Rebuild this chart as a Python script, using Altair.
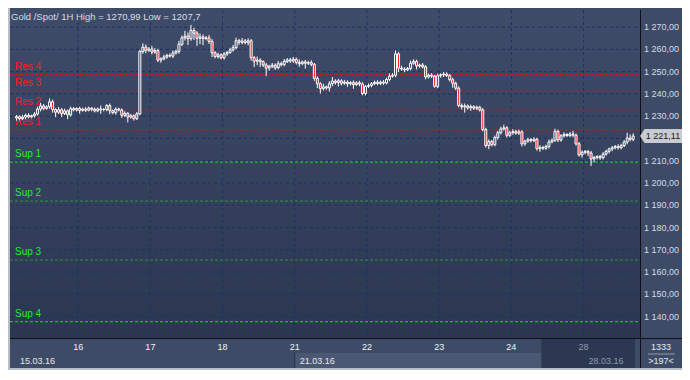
import altair as alt
import pandas as pd

# ---------------- data ----------------
closes = [
    1229.8, 1228.9, 1229.6, 1230.4, 1229.7, 1230.2, 1231.0, 1233.2, 1234.6, 1233.5,
    1234.2, 1236.5, 1233.0, 1231.8, 1232.9, 1231.2, 1232.4, 1230.6, 1233.4, 1232.8,
    1233.5, 1232.6, 1233.2, 1232.7, 1233.6, 1233.1, 1232.4, 1233.3, 1232.9, 1233.0,
    1234.8, 1232.5, 1231.6, 1233.2, 1232.8, 1230.4, 1231.3, 1229.6, 1230.2, 1228.9,
    1231.0, 1259.0, 1261.0, 1259.6, 1260.2, 1258.8, 1259.5, 1255.2, 1255.8, 1256.6,
    1257.3, 1257.0, 1258.4, 1259.1, 1262.3, 1265.2, 1266.0, 1264.8, 1268.5, 1267.3,
    1265.0, 1265.6, 1264.9, 1265.2, 1263.6, 1258.5, 1256.8, 1257.6, 1256.2, 1258.0,
    1258.6, 1259.8, 1260.8, 1263.9, 1263.2, 1263.8, 1263.1, 1263.9, 1256.3, 1254.7,
    1255.2, 1254.5, 1253.0, 1251.6, 1252.4, 1252.9, 1251.8, 1253.6, 1253.2, 1254.6,
    1255.3, 1254.8, 1255.6, 1254.2, 1253.6, 1254.4, 1253.8, 1254.1, 1253.3, 1247.0,
    1244.6, 1242.4, 1243.2, 1242.7, 1244.6, 1245.8, 1245.1, 1245.9, 1244.8, 1245.3,
    1244.6, 1245.1, 1244.2, 1245.0, 1244.5, 1240.2, 1243.4, 1243.8, 1244.6, 1245.2,
    1244.7, 1245.3, 1244.9, 1246.5, 1248.0, 1248.4, 1258.0, 1251.6, 1251.2, 1250.8,
    1251.4, 1253.8, 1254.6, 1252.6, 1253.0, 1252.2, 1247.6, 1248.4, 1248.0, 1243.4,
    1248.2, 1248.6, 1248.9, 1248.3, 1246.4, 1244.8, 1242.6, 1234.8, 1234.2, 1234.6,
    1233.8, 1234.3, 1233.6, 1234.0, 1232.8, 1224.0, 1216.8, 1218.6, 1217.2, 1220.4,
    1222.6, 1224.3, 1224.8, 1221.4, 1222.6, 1223.1, 1222.4, 1223.0, 1217.6, 1218.8,
    1219.5, 1219.0, 1219.7, 1215.4, 1216.0, 1215.6, 1216.4, 1218.4, 1219.2, 1223.2,
    1219.3, 1221.2, 1221.8, 1221.3, 1222.0, 1221.5, 1217.6, 1212.6, 1213.8, 1214.2,
    1213.5, 1210.8, 1211.4, 1211.9, 1211.3, 1213.0, 1214.2, 1215.3, 1215.8, 1216.4,
    1215.9, 1216.8, 1218.4, 1220.2, 1219.6, 1221.11,
]
up_wick = [
    0.8, 0.6, 1.0, 0.7, 0.9, 0.5, 0.8, 1.1, 1.4, 0.9,
    0.7, 1.5, 0.9, 0.6, 1.2, 0.8, 1.0, 0.6, 0.9, 0.7,
    0.5, 0.8, 0.6, 0.9, 0.7, 0.5, 0.8, 0.6, 1.5, 0.7,
    0.6, 0.9, 0.5, 0.8, 0.6, 0.7, 0.9, 0.5, 0.8, 0.6,
    0.9, 0.8, 1.7, 1.2, 0.9, 1.4, 1.1, 0.8, 0.6, 1.0,
    0.7, 0.9, 1.2, 0.8, 1.5, 1.1, 2.3, 1.6, 2.49, 1.2,
    0.9, 1.5, 1.1, 0.8, 1.2, 1.0, 0.7, 0.9, 0.6, 0.8,
    0.7, 0.9, 1.2, 1.4, 0.8, 1.3, 0.9, 1.1, 0.8, 0.7,
    1.6, 0.8, 0.6, 0.9, 0.7, 1.0, 0.8, 1.2, 0.9, 1.1,
    0.8, 0.9, 1.0, 0.7, 1.3, 0.6, 0.9, 0.8, 1.0, 0.6,
    0.9, 0.7, 1.4, 0.6, 1.1, 1.8, 0.8, 0.9, 0.7, 1.0,
    0.8, 0.6, 1.0, 0.7, 0.9, 0.8, 0.6, 0.9, 0.7, 0.8,
    1.0, 0.7, 0.9, 0.8, 1.2, 0.9, 1.6, 0.8, 1.1, 0.9,
    0.7, 1.2, 1.0, 0.8, 0.6, 0.9, 0.7, 0.8, 0.9, 0.6,
    0.9, 0.7, 1.1, 0.8, 0.6, 0.9, 0.7, 0.8, 0.9, 1.1,
    0.7, 0.9, 0.6, 0.8, 0.7, 0.9, 0.8, 1.0, 0.7, 0.9,
    0.8, 1.0, 1.4, 0.7, 0.9, 1.1, 0.8, 1.0, 0.7, 0.6,
    0.9, 0.7, 0.8, 0.6, 0.9, 0.7, 0.8, 1.1, 0.9, 1.2,
    0.8, 0.7, 1.0, 0.6, 0.9, 1.4, 0.7, 0.8, 0.9, 0.6,
    0.7, 0.9, 0.8, 0.6, 0.7, 0.9, 0.8, 0.6, 0.9, 0.7,
    1.0, 0.8, 0.9, 2.4, 1.6, 1.2,
]
down_wick = [
    1.2, 0.8, 0.6, 0.9, 0.7, 0.6, 0.8, 0.7, 1.0, 0.8,
    0.6, 0.9, 1.4, 2.2, 0.8, 1.6, 0.7, 1.9, 0.8, 0.6,
    0.7, 1.5, 0.6, 0.8, 0.5, 0.9, 0.7, 0.6, 1.8, 0.7,
    0.8, 1.6, 0.7, 0.9, 0.6, 1.2, 0.8, 2.4, 0.7, 0.9,
    0.6, 0.5, 0.9, 1.3, 0.7, 1.1, 0.8, 0.9, 1.2, 0.7,
    0.8, 0.6, 0.9, 0.7, 1.0, 0.8, 1.2, 2.8, 0.9, 3.1,
    3.4, 2.6, 3.0, 0.8, 1.1, 1.9, 0.8, 0.9, 0.7, 0.8,
    0.9, 0.6, 0.8, 0.7, 1.1, 0.9, 0.8, 1.2, 1.4, 2.6,
    1.8, 2.4, 0.9, 3.6, 1.2, 0.8, 1.0, 0.7, 0.9, 0.8,
    0.7, 0.9, 0.8, 1.0, 1.4, 0.7, 2.4, 0.8, 0.9, 1.1,
    2.0, 2.2, 0.9, 0.8, 1.6, 1.1, 0.9, 1.8, 1.0, 0.7,
    1.4, 0.8, 1.9, 0.6, 1.0, 0.8, 0.9, 0.7, 0.8, 0.6,
    0.8, 0.7, 0.9, 0.6, 0.8, 0.7, 0.9, 1.8, 0.8, 1.0,
    0.6, 0.8, 0.7, 1.6, 0.9, 0.8, 1.0, 0.7, 0.9, 0.6,
    0.8, 0.9, 1.0, 0.7, 0.8, 2.0, 0.9, 0.8, 1.2, 2.6,
    0.9, 1.4, 0.8, 0.9, 0.7, 0.8, 0.9, 1.6, 0.8, 0.7,
    0.9, 0.8, 0.7, 1.0, 0.8, 0.9, 0.7, 0.8, 1.2, 0.9,
    0.7, 0.8, 0.6, 0.9, 1.4, 0.8, 0.7, 0.9, 0.6, 0.8,
    0.9, 0.7, 0.8, 0.6, 0.7, 0.9, 0.8, 0.7, 1.2, 0.9,
    1.4, 3.1, 1.5, 0.8, 0.9, 0.7, 0.8, 0.9, 1.0, 0.7,
    0.9, 0.8, 0.7, 1.0, 0.9, 0.8,
]
first_open = 1229.2

day_bounds = [20.5, 44.5, 68.5, 92.5, 116.5, 140.5, 164.5, 188.5]
day_labels = ["16", "17", "18", "21", "22", "23", "24", "28"]
week_starts = [-0.5, 92.5, 188.5]
week_labels = ["15.03.16", "21.03.16", "28.03.16"]
price_ticks = [1140, 1150, 1160, 1170, 1180, 1190, 1200, 1210, 1230, 1240, 1250, 1260, 1270]
grid_levels = [1140, 1150, 1160, 1170, 1180, 1190, 1200, 1210, 1220, 1230, 1240, 1250, 1260, 1270]
res_names = ["Res 4", "Res 3", "Res 2", "Res 1"]
res_levels = [1248.7, 1241.4, 1232.9, 1223.9]
sup_names = ["Sup 1", "Sup 2", "Sup 3", "Sup 4"]
sup_levels = [1209.4, 1191.9, 1165.4, 1137.7]
last_price = 1221.11
title_text = "Gold /Spot/  1H High = 1270,99 Low = 1207,7"
bar_count = "1333"
visible_count = ">197<"
hover_start = 174.5

# ---------------- tables ----------------
opens = [first_open] + closes[:-1]
highs = [max(o, c) + u for o, c, u in zip(opens, closes, up_wick)]
lows = [min(o, c) - d for o, c, d in zip(opens, closes, down_wick)]
df = pd.DataFrame({
    "idx": list(range(len(closes))),
    "open": opens, "close": closes, "high": highs, "low": lows,
})

W, H = 630, 328
FONT = "Liberation Sans"
x_end = len(closes) - 0.4
xs = alt.Scale(domain=[-0.5, x_end], nice=False, zero=False)
ys = alt.Scale(domain=[1130.4, 1277.7], nice=False, zero=False)
one = pd.DataFrame({"k": [0]})

fmt_expr = "replace(replace(format({v}, ',.2f'), ',', ' '), '.', ',')"

bg = alt.Chart(one).mark_rect(
    fill=alt.Gradient(
        gradient="linear", x1=0, x2=0, y1=0, y2=1,
        stops=[alt.GradientStop(color="#3f4c69", offset=0),
               alt.GradientStop(color="#2b3651", offset=1)],
    )
).encode(x=alt.value(0), x2=alt.value(W), y=alt.value(0), y2=alt.value(H))

band_df = pd.DataFrame({"a": [week_starts[1]], "b": [hover_start]})
lower_band = alt.Chart(band_df).mark_rect(color="#4a5874").encode(
    x=alt.X("a:Q", scale=xs, axis=None), x2="b:Q",
    y=alt.value(H + 15), y2=alt.value(H + 30))
band_sep = alt.Chart(band_df).mark_rule(color="#26314a", strokeWidth=1).encode(
    x=alt.X("a:Q", scale=xs, axis=None), y=alt.value(H + 15), y2=alt.value(H + 30))

hover = alt.Chart(pd.DataFrame({"a": [hover_start], "b": [x_end]})).mark_rect(color="#2c3752").encode(
    x=alt.X("a:Q", scale=xs, axis=None), x2="b:Q",
    y=alt.value(H), y2=alt.value(H + 30))

hgrid = alt.Chart(pd.DataFrame({"v": grid_levels})).mark_rule(
    color="#1b3363", strokeDash=[3, 3], strokeWidth=1).encode(
    y=alt.Y("v:Q", scale=ys, axis=None), x=alt.value(0), x2=alt.value(W))
vgrid = alt.Chart(pd.DataFrame({"d": day_bounds})).mark_rule(
    color="#1b3363", strokeDash=[3, 3], strokeWidth=1).encode(
    x=alt.X("d:Q", scale=xs, axis=None), y=alt.value(0), y2=alt.value(H))

res_df = pd.DataFrame({"name": res_names, "lvl": res_levels})
sup_df = pd.DataFrame({"name": sup_names, "lvl": sup_levels})
strong_test = "datum.name == 'Res 1' || datum.name == 'Res 4' || datum.name == 'Sup 1' || datum.name == 'Sup 4'"

res_lines = alt.Chart(res_df).mark_rule(color="#d81414", strokeDash=[3, 2], strokeWidth=1).encode(
    y=alt.Y("lvl:Q", scale=ys, axis=None), x=alt.value(0), x2=alt.value(W),
    opacity=alt.condition(strong_test, alt.value(1.0), alt.value(0.6)))
sup_lines = alt.Chart(sup_df).mark_rule(color="#22e022", strokeDash=[3, 2], strokeWidth=1).encode(
    y=alt.Y("lvl:Q", scale=ys, axis=None), x=alt.value(0), x2=alt.value(W),
    opacity=alt.condition(strong_test, alt.value(1.0), alt.value(0.55)))

res_text = alt.Chart(res_df).mark_text(
    align="left", baseline="alphabetic", dy=-5, fontSize=10, font=FONT, color="#ff1a1a").encode(
    x=alt.value(5), y=alt.Y("lvl:Q", scale=ys, axis=None), text="name:N")
sup_text = alt.Chart(sup_df).mark_text(
    align="left", baseline="alphabetic", dy=-5, fontSize=10, font=FONT, color="#22ee22").encode(
    x=alt.value(5), y=alt.Y("lvl:Q", scale=ys, axis=None), text="name:N")

wicks = alt.Chart(df).mark_rule(color="white", strokeWidth=1).encode(
    x=alt.X("idx:Q", scale=xs, axis=None),
    y=alt.Y("low:Q", scale=ys, axis=None),
    y2="high:Q",
)

bodies = alt.Chart(df).mark_bar(size=2, stroke="white", strokeWidth=1).encode(
    x=alt.X("idx:Q", scale=xs, axis=None),
    y=alt.Y("open:Q", scale=ys, axis=None),
    y2="close:Q",
    color=alt.condition("datum.close < datum.open", alt.value("#ff1010"), alt.value("#3a4765")),
)

# price labels on the right (drawn through the price scale)
price_labels = alt.Chart(pd.DataFrame({"v": price_ticks})).transform_calculate(
    t=fmt_expr.format(v="datum.v")).mark_text(
    align="left", baseline="middle", fontSize=9, font=FONT, color="#d6dae2").encode(
    x=alt.value(W + 4), y=alt.Y("v:Q", scale=ys, axis=None), text="t:N")

# day labels under the plot (drawn through the index scale)
day_text = alt.Chart(pd.DataFrame({"d": day_bounds, "lab": day_labels})).mark_text(
    align="center", baseline="middle", fontSize=9, font=FONT).encode(
    x=alt.X("d:Q", scale=xs, axis=None), y=alt.value(H + 9), text="lab:N",
    color=alt.condition("datum.d > 180", alt.value("#8e9ab0"), alt.value("#f2f2f2")))

frame_v = alt.Chart(one).mark_rule(color="#0e1116", strokeWidth=1).encode(
    x=alt.value(W + 0.5), y=alt.value(0), y2=alt.value(H + 30))
frame_h = alt.Chart(one).mark_rule(color="#0e1116", strokeWidth=1).encode(
    y=alt.value(H + 0.5), x=alt.value(0), x2=alt.value(W + 42))
edge_l = alt.Chart(one).mark_rule(color="#b9bdc5", strokeWidth=2).encode(
    x=alt.value(-1), y=alt.value(-2), y2=alt.value(H + 32))
edge_b = alt.Chart(one).mark_rule(color="#b9bdc5", strokeWidth=2).encode(
    y=alt.value(H + 31), x=alt.value(-2), x2=alt.value(W + 42))

tag_df = pd.DataFrame({"p": [last_price]})
tag_shape = "M -1 0 L -0.78 -0.33 L 1 -0.33 L 1 0.33 L -0.78 0.33 Z"
tag = alt.Chart(tag_df).mark_point(
    shape=tag_shape, size=1764, filled=True, color="#c9cbd0", opacity=1, strokeWidth=0).encode(
    x=alt.value(W + 21), y=alt.Y("p:Q", scale=ys, axis=None))
tag_text = alt.Chart(tag_df).transform_calculate(
    t=fmt_expr.format(v="datum.p")).mark_text(
    fontSize=9, font=FONT, color="#15181e", align="center", baseline="middle").encode(
    x=alt.value(W + 23), y=alt.Y("p:Q", scale=ys, axis=None), text="t:N")

title = alt.Chart(one).mark_text(
    text=title_text, align="left", baseline="middle", fontSize=9.5, font=FONT, color="#d8dce3").encode(
    x=alt.value(1), y=alt.value(7))

count_top = alt.Chart(one).mark_text(
    text=bar_count, align="center", baseline="middle", fontSize=9, font=FONT, color="#e6e8ec").encode(
    x=alt.value(W + 21), y=alt.value(H + 9))
count_bot = alt.Chart(one).mark_text(
    text=visible_count, align="center", baseline="middle", fontSize=9, font=FONT, color="#e6e8ec").encode(
    x=alt.value(W + 21), y=alt.value(H + 23))
count_sep = alt.Chart(one).mark_rule(color="#8f99aa", strokeWidth=1).encode(
    y=alt.value(H + 16), x=alt.value(W + 8), x2=alt.value(W + 35))

week_text = alt.Chart(pd.DataFrame({"pos": week_starts, "lab": week_labels})).mark_text(
    align="left", baseline="middle", dx=5, fontSize=9, font=FONT).encode(
    x=alt.X("pos:Q", scale=xs, axis=None), y=alt.value(H + 23), text="lab:N",
    color=alt.condition("datum.pos > 180", alt.value("#8e9ab0"), alt.value("#e8e8e8")))

chart = alt.layer(
    bg, lower_band, hover, band_sep, hgrid, vgrid, res_lines, sup_lines,
    res_text, sup_text, wicks, bodies, frame_v, frame_h, edge_l, edge_b,
    price_labels, day_text,
    tag, tag_text, title, count_top, count_sep, count_bot, week_text,
).properties(
    width=W, height=H,
    padding={"left": 2, "top": 2, "right": 42, "bottom": 32},
    autosize=alt.AutoSizeParams(type="none"),
    background="#3d4b67",
).configure_view(stroke=None)

chart.save("out.html", embed_options={"renderer": "svg", "actions": False})
